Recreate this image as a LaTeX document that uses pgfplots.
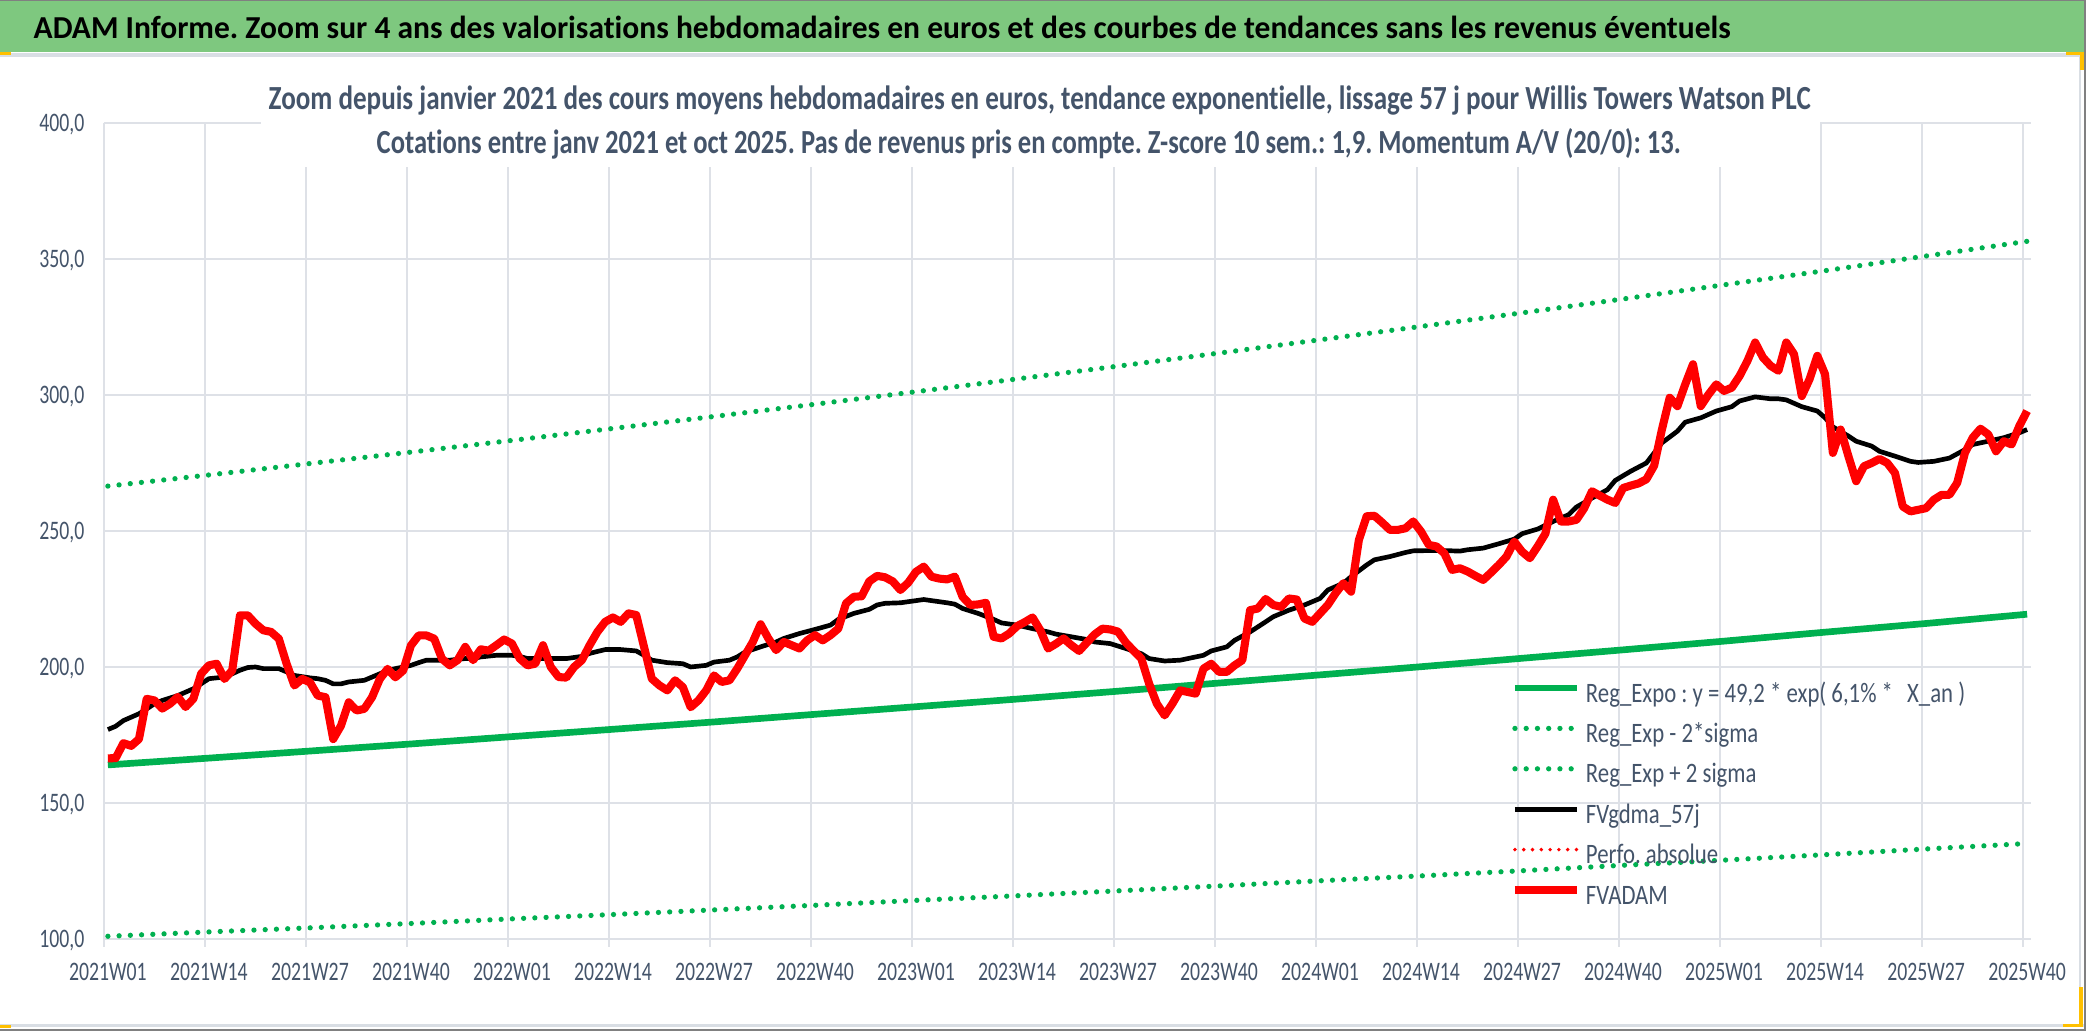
\documentclass[border=0pt]{standalone}
\usepackage{fontspec}
\setmainfont{Carlito}[Ligatures={NoCommon}]
\newfontfamily\narrow{Carlito}[FakeStretch=0.74, Ligatures={NoCommon}]
\newfontfamily\legfont{Carlito}[FakeStretch=0.81, Ligatures={NoCommon}]
\usepackage{graphicx}
\usepackage{pgfplots}
\pgfplotsset{compat=1.18}
\definecolor{band}{RGB}{126,200,127}
\definecolor{txt}{RGB}{68,84,106}
\definecolor{gridc}{RGB}{222,225,231}
\definecolor{xlgreen}{RGB}{0,176,80}
\definecolor{framec}{RGB}{128,128,128}
\definecolor{sepc}{RGB}{217,222,228}
\definecolor{sel}{RGB}{255,192,0}
\frenchspacing
\begin{document}
\begin{tikzpicture}
\useasboundingbox (0,0) rectangle (20.86,10.31);
\fill[white] (0,0) rectangle (20.86,10.31);
% title band
\fill[band] (0,9.79) rectangle (20.86,10.30);
\fill[framec] (0,10.30) rectangle (20.86,10.31);
\fill[sepc] (0,9.74) rectangle (20.86,9.78);
\fill[sepc] (0,0.04) rectangle (20.86,0.07);
\fill[framec] (0,0) rectangle (20.86,0.02);
\fill[sepc] (20.79,0.04) rectangle (20.81,9.78);
\fill[framec] (20.84,0) rectangle (20.86,10.31);
\fill[sel] (0,9.76) rectangle (0.11,9.79);
\fill[sel] (20.66,9.76) rectangle (20.84,9.79);
\fill[sel] (20.80,9.61) rectangle (20.84,9.79);
\fill[sel] (0,0.03) rectangle (0.11,0.06);
\fill[sel] (20.79,0.04) rectangle (20.83,0.44);
\fill[sel] (20.63,0.04) rectangle (20.83,0.07);
\node[anchor=base west, inner sep=0pt] at (0.33,9.92) {\resizebox{16.97cm}{\height}{\bfseries\fontsize{9.1pt}{11pt}\selectfont ADAM Informe. Zoom sur 4 ans des valorisations hebdomadaires en euros et des courbes de tendances sans les revenus éventuels}};
\begin{axis}[
  at={(1.04cm,0.92cm)}, anchor=south west,
  scale only axis, width=19.27cm, height=8.16cm,
  xmin=-0.5, xmax=247.5, ymin=100, ymax=400,
  axis line style={draw=none},
  xtick={0,13,...,247},
  xticklabels={2021W01,2021W14,2021W27,2021W40,2022W01,2022W14,2022W27,2022W40,2023W01,2023W14,2023W27,2023W40,2024W01,2024W14,2024W27,2024W40,2025W01,2025W14,2025W27,2025W40},
  minor xtick={-0.5,12.5,...,246.5},
  xminorgrids=true, xmajorgrids=false, ymajorgrids=true,
  ytick={100,150,...,400},
  yticklabels={{100,0},{150,0},{200,0},{250,0},{300,0},{350,0},{400,0}},
  major grid style={gridc, line width=0.7pt},
  minor grid style={gridc, line width=0.7pt},
  major tick length=0pt, minor tick length=0.08cm, tick align=outside,
  xtick pos=left, ytick pos=left,
  minor tick style={gridc, line width=0.7pt},
  ticklabel style={font=\narrow\fontsize{7.6pt}{9pt}\selectfont, text=txt},
  xticklabel style={anchor=base, yshift=-0.42cm, inner sep=0pt},
  yticklabel style={anchor=base east, xshift=-0.19cm, yshift=-0.085cm, inner sep=0pt},
  legend image code/.code={\draw[#1] (0cm,0.08cm) -- (0.62cm,0.08cm);},
  legend cell align=left,
  legend style={at={(axis description cs:0.7301,0.3137)}, anchor=north west, draw=none, fill=none,
    inner sep=0pt, outer sep=0pt, row sep=0.144cm, column sep=0.05cm,
    font=\legfont\fontsize{8pt}{9.6pt}\selectfont, text=txt,
    nodes={inner sep=0pt, text height=0.19cm, text depth=0.07cm}},
]
\addplot[xlgreen, line width=1.9pt] coordinates {(0,164.0)(13,166.5)(26,169.1)(39,171.7)(52,174.4)(65,177.1)(78,179.8)(91,182.6)(104,185.4)(117,188.2)(130,191.1)(143,194.1)(156,197.1)(169,200.1)(182,203.2)(195,206.3)(208,209.5)(221,212.8)(234,216.0)(247,219.4)};
\addlegendentry{Reg\_Expo : y = 49,2 * exp( 6,1\% *\enspace X\_an )}
\addplot[xlgreen, line width=1.5pt, line cap=round, dash pattern=on 0pt off 3.2pt] coordinates {(0,101.0)(13,102.6)(26,104.1)(39,105.7)(52,107.4)(65,109.0)(78,110.7)(91,112.4)(104,114.2)(117,115.9)(130,117.7)(143,119.5)(156,121.4)(169,123.2)(182,125.1)(195,127.1)(208,129.0)(221,131.0)(234,133.1)(247,135.1)};
\addlegendentry{Reg\_Exp - 2*sigma}
\addplot[xlgreen, line width=1.5pt, line cap=round, dash pattern=on 0pt off 3.2pt] coordinates {(0,266.5)(13,270.6)(26,274.8)(39,279.0)(52,283.3)(65,287.7)(78,292.1)(91,296.6)(104,301.2)(117,305.9)(130,310.6)(143,315.4)(156,320.3)(169,325.2)(182,330.2)(195,335.3)(208,340.5)(221,345.7)(234,351.1)(247,356.5)};
\addlegendentry{Reg\_Exp + 2 sigma}
\addplot[black, line width=1.33pt, line join=round] coordinates {
(0,177.0)(1,178.2)(2,180.3)(4,182.8)(5,184.6)(6,186.5)(7,187.7)(9,189.5)(11,192.0)(12,193.8)(13,195.7)(15,196.3)(16,197.5)(17,198.8)(18,199.8)(19,200.0)(20,199.4)(22,199.4)(23,198.2)(24,196.9)(26,196.0)(27,195.7)(28,195.1)(29,193.8)(30,193.8)(31,194.5)(33,195.1)(34,196.3)(35,197.5)(36,198.8)(37,199.4)(39,200.6)(40,201.6)(41,202.5)(43,202.5)(44,202.5)(46,203.1)(47,203.1)(48,203.7)(50,204.3)(52,204.3)(53,203.9)(54,203.1)(56,203.1)(59,203.1)(61,203.9)(62,205.0)(64,206.4)(66,206.4)(68,205.9)(69,204.3)(70,202.5)(72,201.6)(74,201.2)(75,200.0)(77,200.6)(78,201.8)(80,202.5)(81,203.7)(82,205.5)(84,207.4)(86,209.2)(87,210.5)(89,212.3)(91,213.8)(93,215.4)(94,217.5)(96,219.7)(98,221.2)(99,222.8)(100,223.4)(102,223.6)(103,224.0)(105,224.8)(106,224.4)(108,223.6)(109,223.1)(110,221.5)(112,219.7)(114,217.5)(115,216.2)(117,215.4)(119,214.1)(121,212.9)(122,212.1)(124,211.1)(126,210.1)(127,209.2)(129,208.6)(131,206.8)(133,204.9)(134,203.1)(136,202.2)(138,202.5)(139,203.1)(141,204.3)(142,205.9)(144,207.4)(145,209.8)(147,212.9)(149,216.6)(150,218.5)(152,220.9)(154,222.8)(156,225.2)(157,228.3)(159,230.8)(160,233.2)(162,237.5)(163,239.4)(165,240.6)(167,242.1)(168,242.7)(170,242.8)(172,242.8)(174,242.6)(175,243.1)(177,243.7)(179,245.3)(181,247.0)(182,249.0)(184,250.7)(186,253.5)(188,256.0)(189,258.8)(191,262.1)(193,265.2)(194,268.6)(196,272.0)(198,275.0)(200,282.4)(202,286.7)(203,290.0)(205,291.6)(207,294.1)(209,295.7)(210,297.8)(212,299.3)(214,298.6)(215,298.6)(216,298.2)(218,295.7)(220,294.1)(221,291.6)(222,288.3)(224,284.9)(225,283.0)(227,281.2)(228,279.3)(230,277.5)(232,275.6)(233,275.2)(235,275.6)(237,276.8)(239,279.9)(240,281.8)(242,283.0)(244,284.3)(246,286.1)(247,287.3)};
\addlegendentry{FVgdma\_57j}
\addlegendimage{red, line width=1.1pt, line cap=round, dash pattern=on 0pt off 2.5pt}
\addlegendentry{Perfo. absolue}
\addplot[red, line width=2.3pt, line join=round] table[row sep=\\] {x y\\
0 166.4\\ 1 166.5\\ 2 172.0\\ 3 171.0\\ 4 173.5\\ 5 188.3\\ 6 187.7\\ 7 184.7\\ 8 186.5\\ 9 189.0\\
10 185.3\\ 11 188.3\\ 12 197.5\\ 13 200.6\\ 14 201.2\\ 15 195.6\\ 16 198.7\\ 17 219.0\\ 18 219.0\\ 19 215.9\\
20 213.5\\ 21 212.9\\ 22 210.4\\ 23 201.2\\ 24 193.2\\ 25 195.6\\ 26 194.4\\ 27 189.5\\ 28 188.9\\ 29 173.5\\
30 178.4\\ 31 187.0\\ 32 184.0\\ 33 184.6\\ 34 188.9\\ 35 195.6\\ 36 199.3\\ 37 196.2\\ 38 198.7\\ 39 207.9\\
40 211.6\\ 41 211.6\\ 42 210.4\\ 43 203.0\\ 44 200.6\\ 45 202.5\\ 46 207.4\\ 47 202.5\\ 48 206.5\\ 49 206.0\\
50 208.0\\ 51 210.1\\ 52 208.6\\ 53 203.1\\ 54 200.6\\ 55 201.2\\ 56 208.0\\ 57 200.0\\ 58 196.3\\ 59 196.1\\
60 200.0\\ 61 202.5\\ 62 208.0\\ 63 212.9\\ 64 216.6\\ 65 218.2\\ 66 216.6\\ 67 219.7\\ 68 219.1\\ 69 207.4\\
70 195.7\\ 71 193.2\\ 72 191.4\\ 73 195.1\\ 74 192.6\\ 75 185.2\\ 76 187.7\\ 77 191.4\\ 78 196.9\\ 79 194.5\\
80 195.1\\ 81 199.4\\ 82 204.3\\ 83 209.2\\ 84 215.7\\ 85 210.5\\ 86 206.2\\ 87 209.2\\ 88 208.0\\ 89 206.8\\
90 209.8\\ 91 211.7\\ 92 209.8\\ 93 211.7\\ 94 214.1\\ 95 223.4\\ 96 225.8\\ 97 226.0\\ 98 231.5\\ 99 233.5\\
100 233.0\\ 101 231.5\\ 102 228.3\\ 103 231.0\\ 104 235.0\\ 105 236.9\\ 106 233.2\\ 107 232.5\\ 108 232.2\\ 109 233.2\\
110 225.8\\ 111 222.8\\ 112 223.0\\ 113 223.6\\ 114 211.1\\ 115 210.5\\ 116 212.3\\ 117 215.0\\ 118 216.5\\ 119 218.2\\
120 213.5\\ 121 206.8\\ 122 208.5\\ 123 210.5\\ 124 208.0\\ 125 205.9\\ 126 209.0\\ 127 212.0\\ 128 214.1\\ 129 213.8\\
130 213.0\\ 131 209.0\\ 132 206.0\\ 133 203.1\\ 134 193.9\\ 135 186.5\\ 136 182.2\\ 137 186.5\\ 138 191.4\\ 139 190.8\\
140 190.2\\ 141 199.4\\ 142 201.2\\ 143 198.2\\ 144 198.2\\ 145 200.6\\ 146 202.5\\ 147 220.9\\ 148 221.5\\ 149 225.0\\
150 222.8\\ 151 222.1\\ 152 225.2\\ 153 224.8\\ 154 217.8\\ 155 216.6\\ 156 219.7\\ 157 222.8\\ 158 227.1\\ 159 230.8\\
160 227.7\\ 161 246.7\\ 162 255.4\\ 163 255.6\\ 164 253.1\\ 165 250.4\\ 166 250.4\\ 167 251.0\\ 168 253.5\\ 169 249.8\\
170 244.9\\ 171 244.3\\ 172 241.8\\ 173 235.7\\ 174 236.3\\ 175 235.1\\ 176 233.5\\ 177 232.0\\ 178 234.7\\ 179 237.5\\
180 240.6\\ 181 246.1\\ 182 242.4\\ 183 240.0\\ 184 244.3\\ 185 249.0\\ 186 261.5\\ 187 253.5\\ 188 253.5\\ 189 254.1\\
190 258.4\\ 191 264.6\\ 192 263.0\\ 193 261.5\\ 194 260.3\\ 195 265.8\\ 196 266.7\\ 197 267.5\\ 198 269.0\\ 199 274.0\\
200 287.3\\ 201 299.0\\ 202 295.9\\ 203 303.9\\ 204 311.3\\ 205 295.9\\ 206 300.2\\ 207 303.9\\ 208 301.5\\ 209 302.7\\
210 307.0\\ 211 312.5\\ 212 319.3\\ 213 313.8\\ 214 310.7\\ 215 308.9\\ 216 319.3\\ 217 315.0\\ 218 299.6\\ 219 305.8\\
220 314.4\\ 221 307.6\\ 222 278.7\\ 223 287.3\\ 224 277.5\\ 225 268.3\\ 226 273.8\\ 227 275.0\\ 228 276.5\\ 229 275.0\\
230 271.3\\ 231 259.0\\ 232 257.2\\ 233 257.8\\ 234 258.4\\ 235 261.5\\ 236 263.3\\ 237 263.3\\ 238 267.7\\ 239 278.7\\
240 284.3\\ 241 287.6\\ 242 285.5\\ 243 279.3\\ 244 283.0\\ 245 281.8\\ 246 288.6\\ 247 294.1\\
};
\addlegendentry{FVADAM}
\end{axis}
% subtitle box
\fill[white] (2.61,8.64) rectangle (18.20,9.50);
\node[anchor=base west, inner sep=0pt, text=txt] at (2.68,9.21) {\resizebox{15.42cm}{\height}{\bfseries\fontsize{9.6pt}{11pt}\selectfont Zoom depuis janvier 2021 des cours moyens hebdomadaires en euros, tendance exponentielle, lissage 57 j pour Willis Towers Watson PLC}};
\node[anchor=base west, inner sep=0pt, text=txt] at (3.76,8.77) {\resizebox{13.04cm}{\height}{\bfseries\fontsize{9.6pt}{11pt}\selectfont Cotations entre janv 2021 et oct 2025. Pas de revenus pris en compte. Z-score 10 sem.: 1,9. Momentum A/V (20/0): 13.}};
\end{tikzpicture}
\end{document}
